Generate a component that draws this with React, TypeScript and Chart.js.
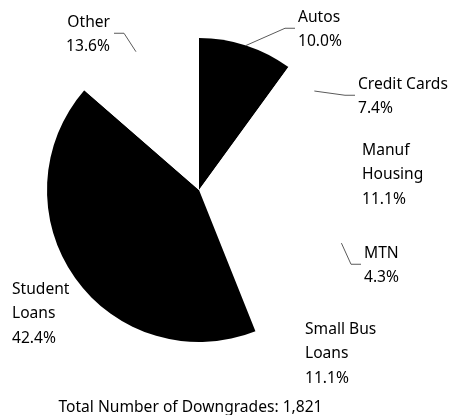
import React, { useEffect, useRef } from "react";
import { Chart, registerables } from "chart.js";

Chart.register(...registerables);

const categories = ["Autos", "Credit Cards", "Manuf Housing", "MTN", "Small Bus Loans", "Student Loans", "Other"];
const values = [10.0, 7.4, 11.1, 4.3, 11.1, 42.4, 13.6];
const labelLines = [["Autos", "10.0%"], ["Credit Cards", "7.4%"], ["Manuf", "Housing", "11.1%"], ["MTN", "4.3%"], ["Small Bus", "Loans", "11.1%"], ["Student", "Loans", "42.4%"], ["Other", "13.6%"]];
const sliceColors = ["#000000", "#ffffff", "#ffffff", "#ffffff", "#ffffff", "#000000", "#ffffff"];
const totalLabel = "Total Number of Downgrades: 1,821";

// label placement relative to pie centre: [dx of text edge, dy of first line centre, align, hasLeader]
const labelLayout: [number, number, "left" | "right", boolean][] = [
  [99, -174, "left", true],
  [159, -107, "left", true],
  [163, -41, "left", false],
  [165, 62, "left", true],
  [106, 138, "left", false],
  [-187, 98, "left", false],
  [-89, -169, "right", true],
];

const FONT = '15.6px "Noto Sans"';
const LINE_H = 24.5;
const TEXT_SHIFT = 1.5;

const labelPlugin = {
  id: "pieLabels",
  afterDraw(chart: any) {
    const ctx = chart.ctx;
    const meta = chart.getDatasetMeta(0);
    ctx.save();
    ctx.font = FONT;
    ctx.fillStyle = "#000";
    ctx.textBaseline = "middle";
    meta.data.forEach((arc: any, i: number) => {
      const { x, y, startAngle, endAngle, outerRadius } = arc.getProps(["x", "y", "startAngle", "endAngle", "outerRadius"], true);
      const [dx, dy, align, leader] = labelLayout[i];
      const lines = labelLines[i];
      ctx.textAlign = align;
      const tx = x + dx;
      lines.forEach((l, k) => ctx.fillText(l, tx, y + dy + TEXT_SHIFT + k * LINE_H));
      if (leader) {
        const mid = (startAngle + endAngle) / 2;
        const px = x + Math.cos(mid) * outerRadius;
        const py = y + Math.sin(mid) * outerRadius;
        const ey = y + dy + ((lines.length - 1) * LINE_H) / 2;
        const ex = align === "left" ? tx - 3 : tx + 4;
        const elbow = align === "left" ? ex - 10 : ex + 10;
        ctx.strokeStyle = "#5a5a5a";
        ctx.lineWidth = 1;
        ctx.beginPath();
        ctx.moveTo(px, py);
        ctx.lineTo(elbow, ey);
        ctx.lineTo(ex, ey);
        ctx.stroke();
      }
    });
    const c = meta.data[0];
    ctx.textAlign = "center";
    ctx.fillText(totalLabel, c.x - 8.5, c.y + 216 + TEXT_SHIFT);
    ctx.restore();
  },
};

export default function App() {
  const ref = useRef<HTMLCanvasElement>(null);
  useEffect(() => {
    const chart = new Chart(ref.current!, {
      type: "pie",
      data: {
        labels: categories,
        datasets: [{ data: values, backgroundColor: sliceColors, borderWidth: 0, hoverOffset: 0 }],
      },
      options: {
        animation: false,
        responsive: false,
        layout: { padding: { left: 47, right: 100, top: 38, bottom: 73 } },
        plugins: { legend: { display: false }, tooltip: { enabled: false }, title: { display: false } },
      },
      plugins: [labelPlugin],
    });
    return () => chart.destroy();
  }, []);
  return (
    <div style={{ position: "fixed", left: 0, top: 0, width: 451, height: 415, background: "#fff" }}>
      <canvas ref={ref} width={451} height={415} />
    </div>
  );
}
